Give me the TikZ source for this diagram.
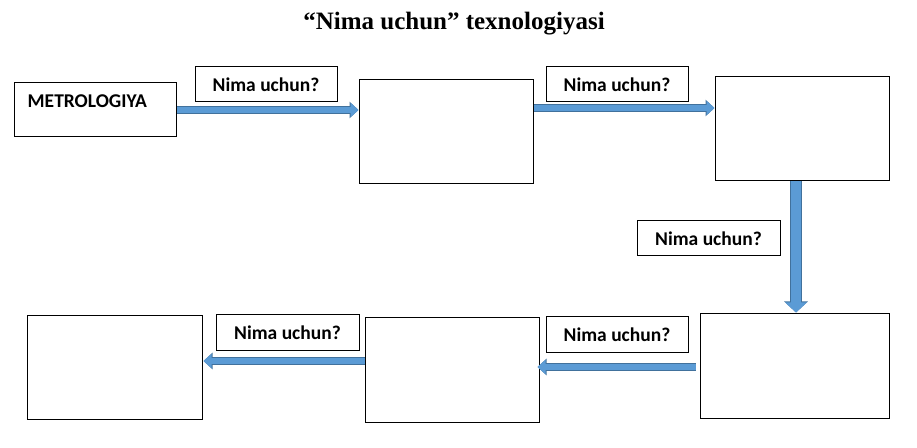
\documentclass[tikz,border=0pt]{standalone}
\usepackage{fontspec}
\setmainfont{Liberation Serif}
\newfontfamily\calfont{Carlito}
\usetikzlibrary{arrows.meta}
\definecolor{arrfill}{HTML}{5B9BD5}
\definecolor{arredge}{HTML}{41719C}
\begin{document}
\begin{tikzpicture}[x=1pt,y=1pt,
  box/.style={draw=black, line width=1pt, fill=white, inner sep=0pt},
  qbox/.style={draw=black, line width=1pt, fill=white, minimum width=142pt, minimum height=35pt, inner sep=0pt, font=\calfont\bfseries\fontsize{19.5}{22}\selectfont},
  harrow/.style={line width=6pt, arrfill, -{Triangle[length=8pt,width=14pt]},
    preaction={draw=arredge, line width=7.6pt, -{Triangle[length=9pt,width=16pt]}}},
  varrow/.style={line width=10pt, arrfill, -{Triangle[length=10pt,width=21pt]},
    preaction={draw=arredge, line width=11.6pt, -{Triangle[length=11pt,width=23pt]}}}
]
\useasboundingbox (0,0) rectangle (917,447);
% title
\node[anchor=base, inner sep=0pt, font=\bfseries\fontsize{25}{28}\selectfont] (title) at (454,417) {“Nima uchun” texnologiyasi};
% boxes
\node[box, minimum width=162pt, minimum height=54pt,
  label={[anchor=base west, inner sep=0pt, xshift=14pt, yshift=-25pt, font=\calfont\bfseries\fontsize{19.5}{22}\selectfont]north west:METROLOGIYA}] (m) at (95,337) {};
\node[box, minimum width=174pt, minimum height=104pt] (b2) at (446,315) {};
\node[box, minimum width=174pt, minimum height=104pt] (b3) at (802,318) {};
\node[box, minimum width=189pt, minimum height=104pt] (b4) at (794.5,81) {};
\node[box, minimum width=174pt, minimum height=104pt] (b5) at (452,77) {};
\node[box, minimum width=175pt, minimum height=103pt] (b6) at (114.5,79.5) {};
% question labels
\node[qbox] (l1) at (266,362.5) {Nima uchun?};
\node[qbox] (l2) at (617,362.5) {Nima uchun?};
\node[qbox, minimum width=143pt] (l3) at (708.5,208.5) {Nima uchun?};
\node[qbox, minimum width=143pt] (l4) at (287.5,114.5) {Nima uchun?};
\node[qbox] (l5) at (617,112.5) {Nima uchun?};
% arrows
\draw[harrow] (m.east) -- ([yshift=22pt]b2.west);
\draw[harrow] ([yshift=24pt]b2.east) -- ([yshift=21pt]b3.west);
\draw[varrow] ([xshift=-6pt]b3.south) -- ([xshift=1.5pt,yshift=1pt]b4.north);
\draw[harrow] ([xshift=-4pt,yshift=-1pt]b4.west) -- ([xshift=-2pt,yshift=3pt]b5.east);
\draw[harrow] ([yshift=9pt]b5.west) -- ([xshift=1pt,yshift=6.5pt]b6.east);
\end{tikzpicture}
\end{document}
